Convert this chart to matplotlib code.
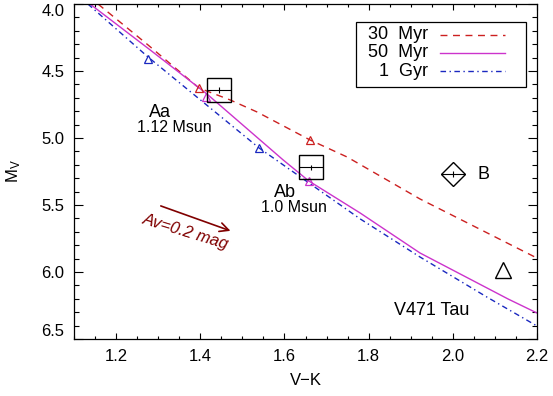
import numpy as np
import matplotlib
matplotlib.use('Agg')
import matplotlib.pyplot as plt
from matplotlib.ticker import MultipleLocator
from matplotlib.patches import Rectangle
from matplotlib.lines import Line2D

plt.rcParams['font.family'] = ['Liberation Sans', 'DejaVu Sans']

# isochrones (V-K, Mv)
iso30_x = [1.157, 1.276, 1.397, 1.471, 1.535, 1.661, 1.749, 1.922, 2.2]
iso30_y = [4.0, 4.306, 4.627, 4.716, 4.806, 5.015, 5.142, 5.455, 5.896]
iso50_x = [1.138, 1.281, 1.416, 1.597, 1.658, 1.780, 1.922, 2.131, 2.2]
iso50_y = [4.0, 4.343, 4.672, 5.164, 5.321, 5.560, 5.858, 6.201, 6.306]
iso1g_x = [1.133, 1.276, 1.540, 1.780, 1.922, 2.081, 2.2]
iso1g_y = [4.0, 4.396, 5.075, 5.604, 5.888, 6.187, 6.403]

# mass points on isochrones
tri30_x = [1.397, 1.661]
tri30_y = [4.627, 5.015]
tri50_x = [1.414, 1.658]
tri50_y = [4.694, 5.321]
tri1g_x = [1.276, 1.540]
tri1g_y = [4.41, 5.075]

# stars
Aa = (1.4445, 4.642)
Ab = (1.663, 5.22)
B = (2.0, 5.269)
v471 = (2.119, 5.985)
xerr = 0.028
yerr = 0.02

red = '#cc2020'
mag = '#cc33cc'
blue = '#1a28c0'

fig = plt.figure(figsize=(5.53, 3.96), dpi=100)
ax = fig.add_axes([74/553, 57/396, 463/553, 335/396])

ax.plot(iso30_x, iso30_y, color=red, lw=1.0, dashes=(5, 4))
ax.plot(iso50_x, iso50_y, color=mag, lw=1.0)
ax.plot(iso1g_x, iso1g_y, color=blue, lw=1.0, dashes=(4, 2.5, 1, 2.5))

ax.plot(tri30_x, tri30_y, '^', ms=6, mfc='none', mec=red, mew=0.9)
ax.plot(tri50_x, tri50_y, '^', ms=6, mfc='none', mec=mag, mew=0.9)
ax.plot(tri1g_x, tri1g_y, '^', ms=6, mfc='none', mec=blue, mew=0.9)

for s in [Aa, Ab]:
    ax.errorbar(s[0], s[1], xerr=xerr, yerr=yerr, fmt='s', ms=17, mfc='none',
                mec='k', mew=1.0, ecolor='k', elinewidth=0.8, capsize=0)
ax.errorbar(B[0], B[1], xerr=xerr, yerr=yerr, fmt='D', ms=12.5, mfc='none',
            mec='k', mew=1.0, ecolor='k', elinewidth=0.8, capsize=0)
ax.plot(v471[0], v471[1], '^', ms=12, mfc='none', mec='k', mew=1.0)

ax.text(1.304, 4.806, 'Aa', fontsize=13, ha='center', va='center')
ax.text(1.3376, 4.925, '1.12 Msun', fontsize=11.5, ha='center', va='center')
ax.text(1.601, 5.403, 'Ab', fontsize=13, ha='center', va='center')
ax.text(1.6227, 5.522, '1.0 Msun', fontsize=11.5, ha='center', va='center')
ax.text(2.074, 5.269, 'B', fontsize=13, ha='center', va='center')
ax.text(1.9505, 6.284, 'V471 Tau', fontsize=13, ha='center', va='center')

# reddening vector
ax.annotate('', xy=(1.478, 5.70), xytext=(1.30, 5.50),
            arrowprops=dict(arrowstyle='->', color='#800000', lw=1.2, mutation_scale=16))
ax.text(1.366, 5.70, 'Av=0.2 mag', color='#800000', fontsize=12, style='italic',
        rotation=-17, ha='center', va='center', rotation_mode='anchor')

# legend
ax.add_patch(Rectangle((0.609, 0.752), 0.367, 0.194, transform=ax.transAxes,
                       fill=False, ec='k', lw=0.9))
leg_lab = ['30  Myr', '50  Myr', '1  Gyr']
leg_y = [0.9075, 0.854, 0.80]
leg_style = [dict(color=red, dashes=(5, 4)), dict(color=mag),
             dict(color=blue, dashes=(4, 2.5, 1, 2.5))]
for lab, yy, st in zip(leg_lab, leg_y, leg_style):
    ax.text(0.7646, yy, lab, transform=ax.transAxes, fontsize=13, ha='right', va='center')
    ax.add_line(Line2D([0.790, 0.931], [yy, yy], transform=ax.transAxes, lw=1.0, **st))

ax.set_xlim(1.1, 2.2)
ax.set_ylim(6.5, 4.0)
ax.xaxis.set_major_locator(MultipleLocator(0.2))
ax.xaxis.set_minor_locator(MultipleLocator(0.05))
ax.yaxis.set_major_locator(MultipleLocator(0.5))
ax.yaxis.set_minor_locator(MultipleLocator(0.1))
ax.set_xticks([1.2, 1.4, 1.6, 1.8, 2.0, 2.2])
ax.set_xticklabels(['1.2', '1.4', '1.6', '1.8', '2.0', '2.2'])
ax.set_yticks([4.0, 4.5, 5.0, 5.5, 6.0, 6.5])
ax.set_yticklabels(['4.0', '4.5', '5.0', '5.5', '6.0', '6.5'])
ax.tick_params(axis='x', which='major', direction='in', length=4.5, width=0.8,
               top=True, labelsize=12, pad=7)
ax.tick_params(axis='x', which='minor', direction='in', length=2.2, width=0.8, top=True)
ax.tick_params(axis='y', which='major', direction='in', length=6.5, width=0.8,
               right=True, labelsize=12, pad=7)
ax.tick_params(axis='y', which='minor', direction='in', length=3.3, width=0.8, right=True)
ylabs = ax.get_yticklabels()
ylabs[0].set_va('top')
ylabs[-1].set_va('bottom')
for sp in ax.spines.values():
    sp.set_linewidth(0.9)

ax.set_xlabel('V\u2212K', fontsize=12, labelpad=7)
ax.set_ylabel(r'$\mathregular{M_V}$', fontsize=12, labelpad=13)

fig.savefig('out.png', dpi=100)
